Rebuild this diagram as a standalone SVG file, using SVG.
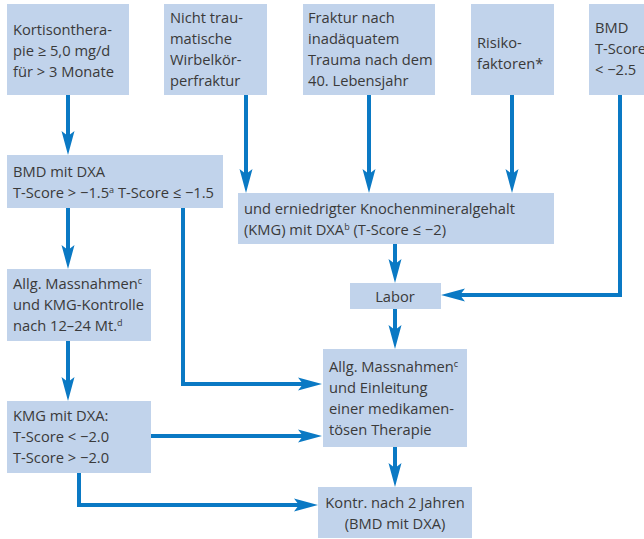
<svg xmlns="http://www.w3.org/2000/svg" width="644" height="539" viewBox="0 0 644 539">
<defs>
<style>
.box{fill:#c1d3eb;}
.t{font-family:"Open Sans","Liberation Sans",sans-serif;font-size:14.7px;fill:#3a3a3a;}
.c{text-anchor:middle;}
.sup{font-size:9px;}
.con{fill:none;stroke:#0a79c4;stroke-width:4;stroke-linejoin:miter;marker-end:url(#ah);}
</style>
<marker id="ah" markerUnits="userSpaceOnUse" markerWidth="30" markerHeight="20" refX="12" refY="7" orient="auto" viewBox="0 0 30 20">
<path d="M0,0.5 L24,7 L0,13.5 L5,7 Z" fill="#0a79c4"/>
</marker>
</defs>
<rect width="644" height="539" fill="#ffffff"/>
<g id="connectors">
<path class="con" d="M68,95 V143"/>
<path class="con" d="M246,95 V181"/>
<path class="con" d="M369,95 V181"/>
<path class="con" d="M512,95 V181"/>
<path class="con" d="M620,95 V295 H453"/>
<path class="con" d="M395,244 V271"/>
<path class="con" d="M395,309 V337"/>
<path class="con" d="M68,208 V257"/>
<path class="con" d="M183,208 V384 H310"/>
<path class="con" d="M68,341 V389"/>
<path class="con" d="M123,436 H310"/>
<path class="con" d="M79,473 V505 H306"/>
<path class="con" d="M395,447 V475"/>
</g>
<g id="n1">
<rect class="box" x="7" y="4" width="122" height="91"/>
<text class="t" x="13" y="35">Kortisonthera-</text>
<text class="t" x="13" y="56">pie ≥ 5,0 mg/d</text>
<text class="t" x="13" y="77">für &gt; 3 Monate</text>
</g>
<g id="n2">
<rect class="box" x="164" y="4" width="103" height="91"/>
<text class="t" x="170" y="23">Nicht trau-</text>
<text class="t" x="170" y="44">matische</text>
<text class="t" x="170" y="65">Wirbelkör-</text>
<text class="t" x="170" y="86">perfraktur</text>
</g>
<g id="n3">
<rect class="box" x="303" y="4" width="132" height="91"/>
<text class="t" x="308" y="23">Fraktur nach</text>
<text class="t" x="308" y="44">inadäquatem</text>
<text class="t" x="308" y="65">Trauma nach dem</text>
<text class="t" x="308" y="86">40. Lebensjahr</text>
</g>
<g id="n4">
<rect class="box" x="471" y="4" width="83" height="91"/>
<text class="t" x="477" y="48">Risiko-</text>
<text class="t" x="477" y="69">faktoren*</text>
</g>
<g id="n5">
<rect class="box" x="589" y="4" width="60" height="91"/>
<text class="t" x="595" y="33">BMD</text>
<text class="t" x="595" y="54">T-Score</text>
<text class="t" x="595" y="75">&lt; −2.5</text>
</g>
<g id="n6">
<rect class="box" x="7" y="155" width="216" height="53"/>
<text class="t" x="13" y="177">BMD mit DXA</text>
<text class="t" x="13" y="198">T-Score &gt; −1.5<tspan class="sup" dy="-5">a</tspan><tspan dy="5"> T-Score ≤ −1.5</tspan></text>
</g>
<g id="n7">
<rect class="box" x="7" y="269" width="144" height="72"/>
<text class="t" x="13" y="289">Allg. Massnahmen<tspan class="sup" dy="-5">c</tspan></text>
<text class="t" x="13" y="310">und KMG-Kontrolle</text>
<text class="t" x="13" y="331">nach 12–24 Mt.<tspan class="sup" dy="-5">d</tspan></text>
</g>
<g id="n8">
<rect class="box" x="238" y="193" width="316" height="51"/>
<text class="t" x="244" y="214">und erniedrigter Knochenmineralgehalt</text>
<text class="t" x="244" y="235">(KMG) mit DXA<tspan class="sup" dy="-5">b</tspan><tspan dy="5"> (T-Score ≤ −2)</tspan></text>
</g>
<g id="n9">
<rect class="box" x="350" y="283" width="91" height="26"/>
<text class="t c" x="395" y="302">Labor</text>
</g>
<g id="n10">
<rect class="box" x="323" y="349" width="144" height="98"/>
<text class="t" x="329" y="372">Allg. Massnahmen<tspan class="sup" dy="-5">c</tspan></text>
<text class="t" x="329" y="393">und Einleitung</text>
<text class="t" x="329" y="414">einer medikamen-</text>
<text class="t" x="329" y="435">tösen Therapie</text>
</g>
<g id="n11">
<rect class="box" x="7" y="401" width="144" height="72"/>
<text class="t" x="13" y="421">KMG mit DXA:</text>
<text class="t" x="13" y="442">T-Score &lt; −2.0</text>
<text class="t" x="13" y="463">T-Score &gt; −2.0</text>
</g>
<g id="n12">
<rect class="box" x="318" y="487" width="154" height="51"/>
<text class="t c" x="395" y="508">Kontr. nach 2 Jahren</text>
<text class="t c" x="395" y="529">(BMD mit DXA)</text>
</g>
</svg>
